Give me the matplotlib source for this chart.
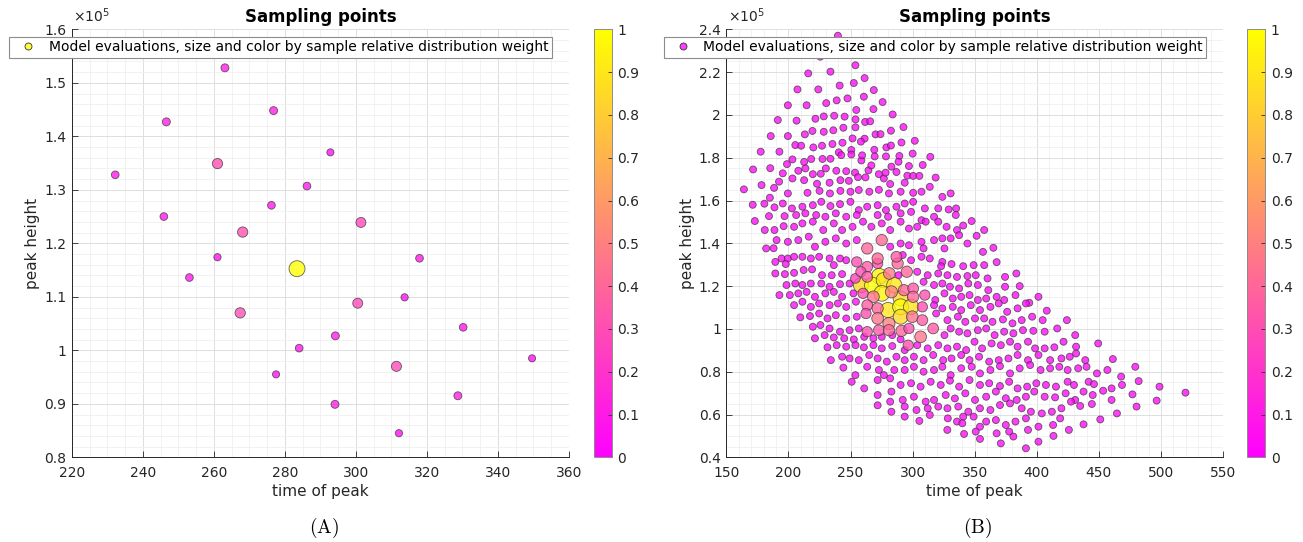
import matplotlib
matplotlib.use('Agg')
import matplotlib.pyplot as plt
import numpy as np
from matplotlib.ticker import MultipleLocator, FuncFormatter
from matplotlib.lines import Line2D
from matplotlib.cm import ScalarMappable
from matplotlib.colors import Normalize

plt.rcParams['font.family'] = ['DejaVu Sans']

# ---- panel A: 27 model evaluations (peak height in units of 1e5) ----
time_a = [263.1, 276.8, 246.6, 292.8, 261.0, 232.2, 286.2, 276.2, 245.9, 301.4,
          268.1, 261.0, 317.9, 283.4, 253.1, 313.7, 300.5, 267.4, 330.2, 294.2,
          284.0, 349.6, 311.4, 277.5, 328.7, 294.1, 312.1]
height_a = [1.528, 1.448, 1.427, 1.370, 1.349, 1.328, 1.307, 1.271, 1.250, 1.239,
            1.221, 1.174, 1.172, 1.1525, 1.136, 1.099, 1.088, 1.070, 1.043, 1.027,
            1.004, 0.985, 0.970, 0.955, 0.915, 0.899, 0.845]
weight_a = [0.10, 0.10, 0.10, 0.04, 0.30, 0.08, 0.08, 0.08, 0.08, 0.27,
            0.30, 0.05, 0.08, 1.00, 0.08, 0.05, 0.27, 0.30, 0.08, 0.10,
            0.08, 0.04, 0.28, 0.04, 0.10, 0.10, 0.05]

# ---- panel B: low-weight evaluations ----
time_b = [
    239.8, 225.6, 253.9, 215.9, 233.8, 252.6, 261.3, 241.2, 207.2, 224.0,
    268.7, 199.5, 214.6, 230.4, 238.8, 247.5, 260.7, 275.8, 254.6, 268.4,
    191.4, 206.5, 221.7, 228.4, 236.8, 245.2, 254.0, 261.7, 265.8, 283.9,
    185.7, 199.5, 213.2, 219.3, 228.4, 236.1, 244.2, 253.9, 261.3, 270.1,
    274.1, 282.5, 292.6, 177.6, 192.7, 205.5, 210.2, 220.0, 227.0, 235.4,
    243.5, 251.6, 250.6, 258.3, 269.1, 278.8, 282.5, 291.0, 301.7, 171.5,
    185.3, 198.8, 203.2, 212.6, 218.3, 227.4, 233.8, 240.5, 242.5, 250.6,
    258.7, 259.3, 269.4, 278.5, 289.3, 288.6, 300.0, 314.2, 164.1, 178.3,
    171.2, 172.9, 180.6, 185.0, 188.4, 192.4, 195.4, 203.2, 207.9, 213.6,
    212.6, 219.6, 226.0, 223.0, 233.1, 230.1, 238.5, 241.8, 246.5, 248.6,
    253.6, 256.0, 262.0, 264.4, 266.7, 272.8, 276.8, 278.2, 281.9, 282.9,
    286.9, 293.6, 295.7, 297.0, 300.4, 305.4, 308.1, 313.8, 318.5,
    199.5, 215.3, 225.0, 233.4, 241.8, 249.9, 256.6, 265.1, 272.8, 280.9, 290.3, 300.4, 307.1, 323.9, 330.6,
    188.7, 195.4, 202.8, 211.2, 219.6, 226.4, 233.8, 241.5, 249.9, 256.6,
    263.4, 271.8, 278.5, 286.9, 293.6, 300.4, 309.8, 320.6, 329.0, 335.0,
    184.3, 196.8, 206.2, 213.6, 222.3, 229.7, 238.1, 246.5, 255.0, 271.8, 280.2, 290.3, 298.7, 307.1, 317.2, 334.7, 347.5,
    180.9, 188.7, 196.1, 204.5, 211.2, 219.6, 228.0, 236.5, 243.2, 251.6, 260.0, 266.7,
    275.1, 281.9, 290.3, 297.0, 303.7, 310.5, 320.6, 327.3, 335.7, 340.7, 357.6,
    182.0, 188.0, 190.4, 199.5, 207.9, 216.3, 221.3, 229.7, 238.1, 246.5, 255.0, 281.9, 290.3,
    297.0, 307.1, 317.2, 323.9, 330.6, 337.4, 344.1, 351.5, 356.6, 365.0, 308.8, 325.6,
    189.4, 194.4, 199.5, 204.5, 211.2, 218.0, 224.7, 233.1, 241.5, 246.5, 292.0, 298.7, 307.1, 313.8, 323.9, 367.6,
    197.8, 236.5, 322.9, 331.3, 340.7, 349.1, 357.6,
    189.4, 197.1, 204.5, 212.2, 219.0, 227.0, 234.8, 243.2, 288.6, 303.7,
    312.1, 320.6, 328.0, 335.7, 344.1, 350.8, 360.3, 374.4, 383.5,
    198.4, 205.5, 211.2, 218.0, 226.4, 233.1, 241.5, 249.2, 308.8, 317.2,
    323.9, 330.0, 337.4, 344.8, 352.5, 360.9, 374.4, 386.2,
    192.7, 201.1, 207.9, 214.6, 221.3, 229.7, 236.5, 243.2, 252.3, 318.2,
    325.6, 332.3, 339.1, 345.8, 352.5, 359.2, 367.6, 373.7, 382.8, 393.9, 401.3,
    204.5, 211.2, 218.0, 224.7, 233.1, 239.8, 246.5, 254.3, 317.2, 323.9,
    332.3, 339.1, 346.8, 354.2, 362.6, 369.3, 376.1, 384.5, 391.2, 408.0,
    209.5, 217.3, 224.7, 231.4, 238.1, 246.5, 255.0, 318.9, 328.0, 336.4,
    342.4, 350.2, 357.6, 364.3, 372.7, 380.4, 387.8, 396.2, 404.7, 424.2,
    219.6, 225.7, 233.1, 241.5, 249.2, 256.6, 325.6, 330.6, 337.4, 344.1,
    352.5, 359.2, 366.0, 373.7, 381.1, 388.8, 397.2, 406.3, 416.4, 430.9,
    221.3, 229.1, 236.5, 244.9, 252.6, 261.0, 268.4, 275.1, 283.6, 290.3,
    231.4, 238.8, 246.5, 254.0, 260.7, 268.4, 275.1, 283.6, 293.6, 303.7,
    312.1, 320.6, 328.0, 335.7, 343.1, 349.8, 355.9, 363.6, 371.0, 378.4,
    384.5, 392.9, 398.6, 406.3, 414.1, 421.5, 431.6, 449.4,
    234.1, 243.2, 249.2, 256.6, 265.0, 271.8, 279.2, 286.9, 293.6, 301.0,
    308.8, 316.5, 324.6, 331.3, 339.1, 345.8, 353.5, 361.6, 369.3, 377.1,
    384.5, 392.9, 401.3, 410.7, 419.8, 426.5, 431.6, 439.0, 461.2,
    244.2, 253.9, 263.4, 272.8, 276.8, 285.2, 293.6, 301.0, 308.8, 317.2,
    323.9, 330.6, 339.1, 347.5, 354.2, 362.6, 370.3, 378.4, 386.2, 394.6,
    403.0, 410.7, 418.1, 424.8, 433.3, 440.0, 448.4, 456.8, 467.9, 479.3,
    250.9, 261.0, 271.8, 281.9, 290.3, 298.7, 306.4, 314.5, 322.6, 330.0,
    337.4, 345.8, 354.2, 361.6, 370.3, 377.7, 384.5, 392.2, 399.6, 407.3,
    415.4, 424.8, 429.9, 441.7, 446.0, 460.2, 468.6, 482.0, 498.8, 519.7,
    271.8, 282.9, 292.0, 301.0, 310.5, 317.2, 326.6, 334.0, 342.4, 350.2,
    359.2, 367.0, 375.0, 383.8, 391.2, 397.9, 406.3, 414.7, 423.2, 430.9,
    437.6, 445.0, 453.4, 460.2, 477.0, 496.5, 480.3,
    271.8, 281.9, 282.9, 293.6, 303.1, 312.1, 320.6, 328.0, 336.7, 344.8,
    354.2, 362.6, 370.3, 378.4, 387.8, 395.2, 404.0, 412.1, 419.8, 427.5,
    434.9, 444.3, 451.1, 464.5,
    293.6, 305.4, 313.8, 328.3, 335.7, 340.7, 349.1, 354.2, 359.2, 367.0,
    375.0, 382.8, 391.2, 401.3, 413.1, 418.8, 425.8, 437.6, 327.9, 340.0,
    350.8, 367.6, 377.7, 392.9, 413.4, 371.0, 381.1, 401.3, 354.2, 341.4, 391.2,
]
height_b = [
    2.370, 2.272, 2.232, 2.194, 2.202, 2.149, 2.172, 2.137, 2.119, 2.119,
    2.116, 2.045, 2.045, 2.055, 2.068, 2.077, 2.085, 2.060, 2.023, 2.027,
    1.976, 1.973, 1.982, 1.993, 1.996, 1.992, 1.979, 1.967, 1.970, 2.002,
    1.901, 1.901, 1.909, 1.925, 1.921, 1.928, 1.940, 1.942, 1.889, 1.909,
    1.910, 1.926, 1.943, 1.828, 1.828, 1.859, 1.856, 1.848, 1.856, 1.864,
    1.870, 1.890, 1.836, 1.875, 1.837, 1.848, 1.857, 1.871, 1.879, 1.745,
    1.751, 1.770, 1.792, 1.780, 1.794, 1.794, 1.795, 1.825, 1.812, 1.815,
    1.787, 1.811, 1.806, 1.806, 1.808, 1.781, 1.819, 1.804, 1.652, 1.672,
    1.580, 1.504, 1.585, 1.613, 1.659, 1.688, 1.727, 1.703, 1.739, 1.750,
    1.695, 1.723, 1.725, 1.678, 1.683, 1.750, 1.739, 1.695, 1.737, 1.692,
    1.730, 1.709, 1.708, 1.741, 1.764, 1.723, 1.703, 1.730, 1.677, 1.758,
    1.733, 1.683, 1.716, 1.761, 1.715, 1.715, 1.766, 1.664, 1.707,
    1.633, 1.636, 1.645, 1.633, 1.645, 1.641, 1.649, 1.641, 1.650, 1.633, 1.641, 1.636, 1.641, 1.617, 1.633,
    1.568, 1.586, 1.563, 1.571, 1.578, 1.594, 1.574, 1.583, 1.594, 1.555,
    1.571, 1.578, 1.555, 1.571, 1.586, 1.594, 1.563, 1.563, 1.558, 1.563,
    1.527, 1.527, 1.532, 1.540, 1.532, 1.524, 1.540, 1.524, 1.532, 1.532, 1.524, 1.540, 1.547, 1.508, 1.524, 1.532, 1.504,
    1.462, 1.462, 1.480, 1.477, 1.493, 1.501, 1.462, 1.493, 1.462, 1.477, 1.501, 1.477,
    1.493, 1.462, 1.501, 1.469, 1.477, 1.501, 1.501, 1.477, 1.462, 1.483, 1.462,
    1.376, 1.377, 1.415, 1.407, 1.415, 1.431, 1.384, 1.407, 1.423, 1.399, 1.415, 1.384, 1.399,
    1.391, 1.407, 1.415, 1.423, 1.423, 1.438, 1.399, 1.435, 1.360, 1.379, 1.376, 1.376,
    1.313, 1.329, 1.329, 1.337, 1.337, 1.329, 1.337, 1.329, 1.329, 1.321, 1.345, 1.321, 1.337, 1.329, 1.313, 1.312,
    1.303, 1.298, 1.293, 1.303, 1.293, 1.298, 1.298,
    1.259, 1.256, 1.262, 1.275, 1.278, 1.251, 1.251, 1.256, 1.251, 1.267,
    1.251, 1.259, 1.251, 1.243, 1.247, 1.251, 1.236, 1.243, 1.259,
    1.205, 1.212, 1.205, 1.212, 1.212, 1.197, 1.209, 1.212, 1.220, 1.205,
    1.212, 1.197, 1.189, 1.212, 1.205, 1.181, 1.197, 1.200,
    1.158, 1.158, 1.166, 1.173, 1.150, 1.166, 1.173, 1.150, 1.166, 1.135,
    1.166, 1.142, 1.150, 1.158, 1.135, 1.142, 1.150, 1.135, 1.158, 1.122, 1.150,
    1.111, 1.127, 1.103, 1.119, 1.111, 1.119, 1.103, 1.127, 1.111, 1.096,
    1.103, 1.088, 1.111, 1.088, 1.103, 1.119, 1.080, 1.096, 1.119, 1.085,
    1.054, 1.060, 1.072, 1.049, 1.064, 1.049, 1.057, 1.072, 1.041, 1.057,
    1.033, 1.049, 1.049, 1.033, 1.044, 1.026, 1.041, 1.057, 1.041, 1.041,
    1.010, 1.018, 1.002, 0.987, 0.994, 1.002, 0.971, 1.002, 0.987, 0.979,
    0.994, 1.002, 0.971, 0.987, 0.979, 0.994, 0.991, 0.987, 1.002, 0.971,
    0.956, 0.971, 0.960, 0.956, 0.951, 0.963, 0.956, 0.963, 0.971, 0.951,
    0.914, 0.924, 0.917, 0.924, 0.914, 0.924, 0.909, 0.920, 0.901, 0.924,
    0.909, 0.924, 0.909, 0.917, 0.901, 0.940, 0.909, 0.932, 0.924, 0.940,
    0.917, 0.940, 0.909, 0.909, 0.914, 0.940, 0.917, 0.932,
    0.854, 0.870, 0.862, 0.854, 0.878, 0.862, 0.847, 0.870, 0.854, 0.870,
    0.854, 0.878, 0.854, 0.862, 0.878, 0.854, 0.870, 0.847, 0.854, 0.862,
    0.878, 0.854, 0.878, 0.854, 0.862, 0.870, 0.885, 0.854, 0.859,
    0.819, 0.784, 0.823, 0.808, 0.784, 0.808, 0.808, 0.823, 0.800, 0.808,
    0.823, 0.784, 0.816, 0.823, 0.792, 0.808, 0.826, 0.792, 0.816, 0.831,
    0.808, 0.816, 0.823, 0.808, 0.816, 0.823, 0.792, 0.808, 0.777, 0.823,
    0.753, 0.722, 0.761, 0.769, 0.738, 0.746, 0.730, 0.753, 0.738, 0.758,
    0.730, 0.761, 0.738, 0.746, 0.733, 0.753, 0.722, 0.730, 0.746, 0.738,
    0.730, 0.753, 0.738, 0.753, 0.742, 0.722, 0.738, 0.756, 0.730, 0.702,
    0.691, 0.707, 0.668, 0.683, 0.660, 0.668, 0.691, 0.675, 0.699, 0.668,
    0.683, 0.707, 0.676, 0.668, 0.683, 0.707, 0.683, 0.680, 0.699, 0.668,
    0.707, 0.691, 0.711, 0.668, 0.694, 0.665, 0.637,
    0.643, 0.660, 0.613, 0.637, 0.621, 0.629, 0.637, 0.629, 0.637, 0.613,
    0.629, 0.621, 0.644, 0.652, 0.629, 0.613, 0.605, 0.613, 0.629, 0.660,
    0.640, 0.649, 0.577, 0.605,
    0.590, 0.570, 0.598, 0.582, 0.567, 0.590, 0.590, 0.543, 0.567, 0.574,
    0.551, 0.567, 0.582, 0.543, 0.551, 0.582, 0.528, 0.554, 0.528, 0.559,
    0.520, 0.512, 0.520, 0.528, 0.500, 0.465, 0.497, 0.473, 0.486, 0.509, 0.442,
]
weight_b_level = 0.03

# ---- panel B: high-weight evaluations around the posterior mode ----
time_c = [273.1, 258.3, 267.7, 276.8, 285.2, 275.1, 290.3, 280.2, 290.3, 298.7, 290.3,
          263.4, 271.8, 287.9, 295.3, 253.9, 258.3, 263.4, 281.2, 293.0, 300.4,
          260.0, 268.4, 282.9, 300.4, 309.8, 263.4, 271.8, 307.8, 262.4, 271.8,
          280.9, 299.7, 307.8, 263.4, 272.8, 280.9, 291.0, 297.0, 306.4, 316.5,
          296.4, 275.1, 263.4, 255.0, 271.8, 286.9]
height_c = [1.246, 1.204, 1.204, 1.228, 1.204, 1.166, 1.142, 1.088, 1.103, 1.103, 1.057,
            1.290, 1.306, 1.306, 1.267, 1.236, 1.267, 1.243, 1.259, 1.181, 1.189,
            1.166, 1.150, 1.173, 1.150, 1.158, 1.111, 1.096, 1.103, 1.072, 1.049,
            1.025, 1.057, 1.041, 0.987, 0.994, 0.994, 0.991, 1.002, 0.963, 1.002,
            0.924, 1.415, 1.376, 1.313, 1.329, 1.337]
weight_c = [0.95, 0.85, 1.00, 0.90, 0.90, 0.95, 0.85, 0.90, 1.00, 0.90, 0.85,
            0.35, 0.30, 0.40, 0.40, 0.25, 0.30, 0.35, 0.45, 0.40, 0.35,
            0.30, 0.45, 0.50, 0.40, 0.30, 0.35, 0.40, 0.30, 0.30, 0.45,
            0.50, 0.45, 0.35, 0.30, 0.35, 0.40, 0.40, 0.30, 0.45, 0.35,
            0.30, 0.40, 0.40, 0.30, 0.40, 0.35]

LEGEND_TEXT = 'Model evaluations, size and color by sample relative distribution weight'
AXIS_GRAY = '#262626'
cmap = plt.get_cmap('spring')


def marker_style(w):
    # marker area and colour both follow the relative weight
    w = np.asarray(w, dtype=float)
    face = cmap(w)
    face[:, 3] = 0.78
    return 22 + 110 * w, face


def draw_panel(ax, cax, t, h, w, xlim, xstep, xminor, ylim, ystep, yminor, legend_face, legend_left):
    ax.set_axisbelow(True)
    s, face = marker_style(w)
    ax.scatter(t, h, s=s, c=face, edgecolors=(0.2, 0.2, 0.2, 0.75), linewidths=0.6, zorder=3)

    ax.set_xlim(*xlim)
    ax.set_ylim(*ylim)
    ax.xaxis.set_major_locator(MultipleLocator(xstep))
    ax.xaxis.set_minor_locator(MultipleLocator(xminor))
    ax.yaxis.set_major_locator(MultipleLocator(ystep))
    ax.yaxis.set_minor_locator(MultipleLocator(yminor))
    ax.yaxis.set_major_formatter(FuncFormatter(lambda v, p: '%g' % round(v, 3)))
    ax.xaxis.set_major_formatter(FuncFormatter(lambda v, p: '%g' % v))
    ax.grid(True, which='major', color='#dedede', lw=0.7)
    ax.grid(True, which='minor', color='#f0f0f0', lw=0.6)
    for side in ('top', 'right'):
        ax.spines[side].set_visible(False)
    for side in ('left', 'bottom'):
        ax.spines[side].set_color(AXIS_GRAY)
        ax.spines[side].set_linewidth(0.7)
    ax.tick_params(which='major', direction='in', length=4, width=0.6, color=AXIS_GRAY,
                   labelsize=10, labelcolor=AXIS_GRAY)
    ax.tick_params(which='minor', length=0)
    ax.tick_params(axis='x', pad=6)
    ax.tick_params(axis='y', pad=4)

    ax.set_title('Sampling points', fontsize=12, fontweight='bold', pad=5)
    ax.set_xlabel('time of peak', fontsize=11, color=AXIS_GRAY, labelpad=3)
    ax.set_ylabel('peak height', fontsize=11, color=AXIS_GRAY, labelpad=3)
    ax.annotate(r'$\times10^{5}$', xy=(0, 1), xycoords='axes fraction', xytext=(1, 3),
                textcoords='offset points', ha='left', va='bottom', fontsize=10, color=AXIS_GRAY)

    handle = Line2D([], [], marker='o', ls='none', markersize=5, markerfacecolor=legend_face,
                    markeredgecolor='#333333', markeredgewidth=0.6)
    leg = ax.legend([handle], [LEGEND_TEXT], loc='upper left',
                    bbox_to_anchor=(legend_left, 1 - 36.7 / 542), bbox_transform=ax.figure.transFigure,
                    fontsize=10, frameon=True, fancybox=False, framealpha=1, borderpad=0.25,
                    handlelength=2.2, handletextpad=0.4, borderaxespad=0)
    leg.get_frame().set_edgecolor('#8c8c8c')
    leg.get_frame().set_linewidth(0.8)

    cb = ax.figure.colorbar(ScalarMappable(norm=Normalize(0, 1), cmap=cmap), cax=cax)
    cb.set_ticks(np.linspace(0, 1, 11))
    cb.ax.yaxis.set_major_formatter(FuncFormatter(lambda v, p: '%g' % round(v, 2)))
    cb.ax.tick_params(direction='in', length=3, width=0.6, color=AXIS_GRAY, labelsize=10,
                      labelcolor=AXIS_GRAY, pad=4)
    cb.outline.set_edgecolor('#8c8c8c')
    cb.outline.set_linewidth(0.7)


fig = plt.figure(figsize=(13.03, 5.42), dpi=100)
W, H = 1303.0, 542.0
ax_bottom, ax_height = (H - 457.3) / H, (457.3 - 29.3) / H

ax1 = fig.add_axes([71.9 / W, ax_bottom, (569.0 - 71.9) / W, ax_height])
cax1 = fig.add_axes([593.5 / W, ax_bottom, 18.2 / W, ax_height])
ax2 = fig.add_axes([726.4 / W, ax_bottom, (1223.1 - 726.4) / W, ax_height])
cax2 = fig.add_axes([1247.3 / W, ax_bottom, 18.0 / W, ax_height])

draw_panel(ax1, cax1, time_a, height_a, weight_a, (220, 360), 20, 5, (0.8, 1.6), 0.1, 0.02,
           '#ffff33', 9.3 / W)

time_all = time_b + time_c
height_all = height_b + height_c
weight_all = [weight_b_level] * len(time_b) + weight_c
draw_panel(ax2, cax2, time_all, height_all, weight_all, (150, 550), 50, 10, (0.4, 2.4), 0.2, 0.05,
           '#ff3dff', 663.8 / W)

fig.text(323.6 / W, 1 - 528 / H, r'$\mathrm{(A)}$', ha='center', va='center', fontsize=14,
         math_fontfamily='cm')
fig.text(978 / W, 1 - 528 / H, r'$\mathrm{(B)}$', ha='center', va='center', fontsize=14,
         math_fontfamily='cm')

fig.savefig('out.png', dpi=100)
